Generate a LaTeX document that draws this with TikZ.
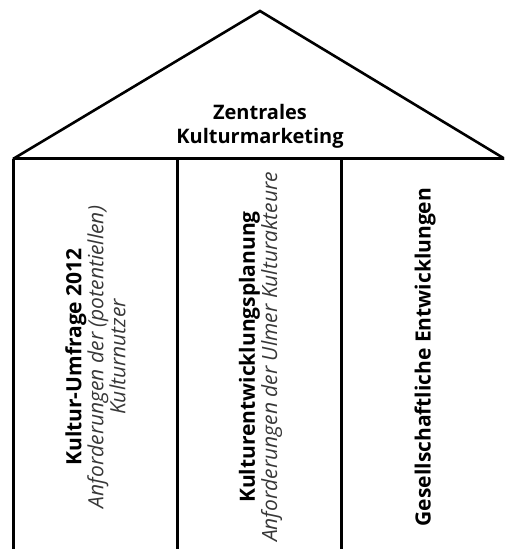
\documentclass[tikz,border=0pt]{standalone}
\usepackage{fontspec}
\setmainfont{Open Sans}
\begin{document}
\begin{tikzpicture}[x=1pt,y=1pt,
  wall/.style={line width=3pt},
  roofline/.style={line width=2.6pt,line join=miter},
  title/.style={font=\bfseries\fontsize{20}{24}\selectfont,text=black},
  pillar/.style={rotate=90,align=center,inner sep=0pt}]
\newcommand{\ptitle}[1]{{\bfseries\fontsize{21}{27}\selectfont #1}}
\newcommand{\psub}[1]{{\itshape\fontsize{21}{24.5}\selectfont\color{black!78}#1}}
\useasboundingbox (0,0) rectangle (504,549);
\clip (0,0) rectangle (504,549);
\coordinate (bl) at (13,390);
\coordinate (apex) at (260,538);
\coordinate (br) at (505,390);
\draw[roofline] (bl) -- (apex) -- (br);
\draw[wall] (bl) -- (br);
\foreach \x/\n in {13/a,177/b,341/c}{
  \coordinate (top\n) at (\x,390);
  \coordinate (bot\n) at (\x,-5);
  \draw[wall] (top\n) -- (bot\n);
}
\node[title,align=center] (roof) at (260,423) {Zentrales\\Kulturmarketing};
\node[pillar] (col1) at (95.5,192) {\ptitle{Kultur-Umfrage 2012}\\\psub{Anforderungen der (potentiellen)}\\\psub{Kulturnutzer}};
\node[pillar] (col2) at (260.5,192) {\ptitle{Kulturentwicklungsplanung}\\\psub{Anforderungen der Ulmer Kulturakteure}};
\node[pillar,font=\bfseries\fontsize{21}{25}\selectfont] (col3) at (425,192) {Gesellschaftliche Entwicklungen};
\end{tikzpicture}
\end{document}
